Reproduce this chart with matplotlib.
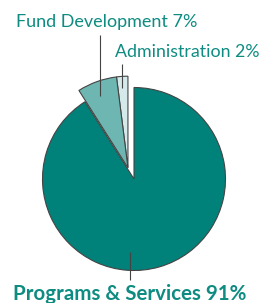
import numpy as np
import matplotlib
matplotlib.use('Agg')
import matplotlib.pyplot as plt

labels = ['Administration', 'Fund Development', 'Programs & Services']
shares = [2, 7, 91]
colors = ['#d5e9eb', '#6db6b1', '#00827a']
text_color = '#0e8c82'

W, H = 263, 303
fig = plt.figure(figsize=(W / 100, H / 100), dpi=100)
ax = fig.add_axes([0, 0, 1, 1])

cx, cy, r = 134, H - 179, 91.5
wedges, _ = ax.pie(shares, colors=colors, startangle=90, counterclock=True,
                   radius=r, center=(cx, cy),
                   wedgeprops=dict(edgecolor='#444444', linewidth=0.8))

# pull the two small slices out together
ang = np.deg2rad(90 + 3.6 * (shares[0] + shares[1]) / 2 + 12)
off = 0.14 * r
for w in wedges[:2]:
    w.set_center((cx + off * np.cos(ang), cy + off * np.sin(ang)))

ax.set_xlim(0, W)
ax.set_ylim(0, H)
ax.axis('off')

# leader lines
ax.vlines(100, H - 96, H - 35, color='#444444', lw=0.8)
ax.vlines(122, H - 88, H - 64, color='#444444', lw=0.8)
ax.vlines(130, H - 280, H - 252, color='#444444', lw=0.8)

font = ['Lato', 'DejaVu Sans']
ax.text(16, H - 22, f'{labels[1]} {shares[1]}%', color=text_color, fontsize=13,
        family=font, va='center', ha='left')
ax.text(115, H - 52, f'{labels[0]} {shares[0]}%', color=text_color, fontsize=12.8,
        family=font, va='center', ha='left')
ax.text(130, H - 294, f'{labels[2]} {shares[2]}%', color=text_color, fontsize=14.8,
        family=font, weight='bold', va='center', ha='center')

fig.savefig('out.png', dpi=100)
